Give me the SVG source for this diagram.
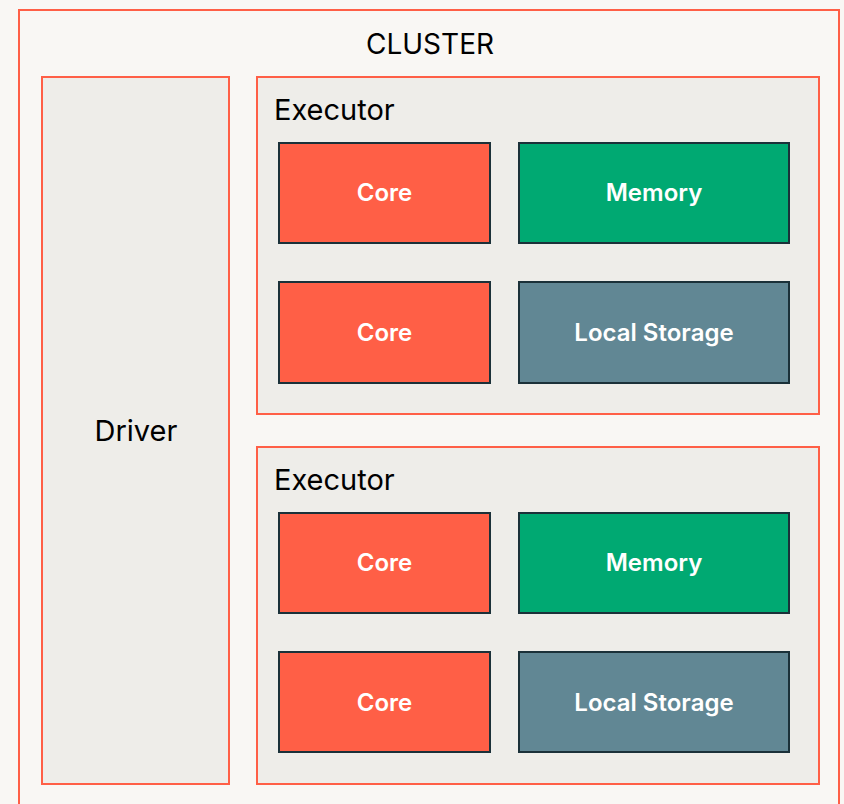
<svg xmlns="http://www.w3.org/2000/svg" width="844" height="804" viewBox="0 0 844 804">
  <style>
    .frame { stroke: #FF5F46; stroke-width: 2; }
    .panel { fill: #EEEDE9; }
    .unit { stroke: #1B3139; stroke-width: 2; }
    .core { fill: #FF5F46; }
    .mem { fill: #00A972; }
    .disk { fill: #618794; }
    .title { font-family: Inter, "Noto Sans", sans-serif; font-size: 29px; fill: #000; }
    .lbl { font-family: Inter, "Noto Sans", sans-serif; font-size: 24px; font-weight: 600; fill: #FFFFFF; text-anchor: middle; }
  </style>
  <rect width="844" height="804" fill="#F9F7F4"/>

  <g id="cluster">
    <rect class="frame" x="19" y="10" width="820" height="810" fill="#F9F7F4"/>
    <text class="title" x="430" y="54" text-anchor="middle" style="font-size:28px">CLUSTER</text>
  </g>

  <g id="driver">
    <rect class="frame panel" x="42" y="77" width="187" height="707"/>
    <text class="title" x="136" y="441" text-anchor="middle">Driver</text>
  </g>

  <g id="executor-1">
    <rect class="frame panel" x="257" y="77" width="562" height="337"/>
    <text class="title" x="274" y="120">Executor</text>
    <g id="executor-1-core-1">
      <rect class="unit core" x="279" y="143" width="211" height="100"/>
      <text class="lbl" x="384.5" y="201">Core</text>
    </g>
    <g id="executor-1-memory">
      <rect class="unit mem" x="519" y="143" width="270" height="100"/>
      <text class="lbl" x="654" y="201">Memory</text>
    </g>
    <g id="executor-1-core-2">
      <rect class="unit core" x="279" y="282" width="211" height="101"/>
      <text class="lbl" x="384.5" y="341">Core</text>
    </g>
    <g id="executor-1-storage">
      <rect class="unit disk" x="519" y="282" width="270" height="101"/>
      <text class="lbl" x="654" y="341">Local Storage</text>
    </g>
  </g>

  <g id="executor-2">
    <rect class="frame panel" x="257" y="447" width="562" height="337"/>
    <text class="title" x="274" y="490">Executor</text>
    <g id="executor-2-core-1">
      <rect class="unit core" x="279" y="513" width="211" height="100"/>
      <text class="lbl" x="384.5" y="571">Core</text>
    </g>
    <g id="executor-2-memory">
      <rect class="unit mem" x="519" y="513" width="270" height="100"/>
      <text class="lbl" x="654" y="571">Memory</text>
    </g>
    <g id="executor-2-core-2">
      <rect class="unit core" x="279" y="652" width="211" height="100"/>
      <text class="lbl" x="384.5" y="711">Core</text>
    </g>
    <g id="executor-2-storage">
      <rect class="unit disk" x="519" y="652" width="270" height="100"/>
      <text class="lbl" x="654" y="711">Local Storage</text>
    </g>
  </g>

  <g id="connectors"/>
</svg>
